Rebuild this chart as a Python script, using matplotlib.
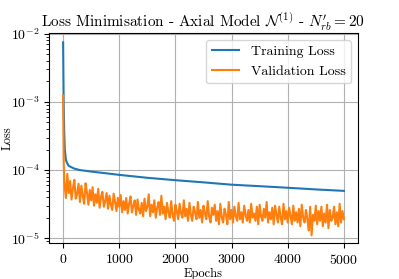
import numpy as np
import matplotlib
matplotlib.use('Agg')
import matplotlib.pyplot as plt

plt.rcParams['font.family'] = 'serif'
plt.rcParams['font.serif'] = ['cmr10']
plt.rcParams['mathtext.fontset'] = 'cm'
plt.rcParams['axes.formatter.use_mathtext'] = True
plt.rcParams['axes.unicode_minus'] = False

# training loss
ep_train = [0, 5, 10, 20, 30, 50, 75, 100, 200, 300, 500, 750, 1000, 1500,
            2000, 2500, 3000, 3500, 4000, 4500, 5000]
loss_train = [750, 250, 90, 35, 20, 14, 12.5, 11.5, 10.5, 10.0, 9.5, 9.0, 8.5, 7.7,
              7.1, 6.6, 6.1, 5.8, 5.5, 5.2, 4.95]  # x1e-5

# validation loss (noisy band), x1e-5
ep_val_start = [0, 5, 10, 20, 30]
val_start = [125, 40, 14, 7, 5.5]
val_rest = [3.9, 8.8, 4.6, 6.9, 3.7, 5.4, 7.2, 3.8, 4.5, 6.3,
            3.4, 5.9, 4.2, 3.2, 6.4, 4.7, 3.1, 5.1, 3.6, 5.6,
            3.0, 4.4, 3.3, 5.3, 2.8, 4.1, 4.8, 2.9, 3.5, 4.6,
            2.7, 4.2, 3.1, 2.6, 4.5, 3.4, 2.5, 3.9, 2.9, 4.3,
            2.4, 3.5, 2.6, 3.9, 2.3, 3.2, 4.1, 2.4, 3.0, 3.6,
            2.2, 3.7, 2.6, 2.3, 3.3, 2.1, 3.8, 2.5, 2.9, 4.4,
            2.1, 3.1, 2.4, 3.6, 2.0, 2.8, 3.4, 2.2, 4.2, 2.3,
            2.9, 1.9, 3.3, 2.4, 2.0, 3.5, 2.2, 1.8, 3.1, 2.5,
            1.9, 3.2, 2.3, 2.0, 3.6, 2.1, 2.7, 1.8, 3.3, 2.2,
            1.8, 2.9, 2.4, 1.9, 3.4, 2.0, 2.6, 1.7, 3.0, 2.3,
            1.9, 3.5, 2.1, 1.7, 2.8, 2.2, 3.1, 1.8, 2.5, 1.6,
            3.2, 2.0, 1.7, 2.7, 2.2, 1.6, 3.4, 1.9, 2.6, 1.7,
            2.9, 2.1, 1.8, 3.3, 1.9, 2.4, 1.7, 3.0, 2.2, 1.8,
            2.6, 1.7, 3.2, 2.0, 2.3, 1.8, 2.9, 1.6, 3.1, 2.1,
            1.8, 2.7, 2.0, 3.4, 1.7, 2.4, 1.9, 2.8, 1.6, 3.0,
            2.2, 1.7, 2.9, 2.0, 1.6, 3.2, 1.9, 2.5, 1.7, 2.8,
            2.1, 1.6, 3.0, 1.8, 2.4, 1.7, 2.7, 1.5, 3.1, 2.0,
            1.7, 2.6, 1.9, 1.3, 2.9, 1.1, 2.2, 1.8, 3.0, 1.6,
            2.5, 1.8, 2.9, 1.5, 2.3, 1.7, 3.1, 1.4, 2.6, 1.8,
            2.0, 2.9, 1.6, 2.4, 1.5, 3.2, 1.7, 2.5, 1.9]
ep_val = ep_val_start + list(range(50, 5001, 25))
loss_val = val_start + val_rest

fig = plt.figure(figsize=(3.99, 2.79), dpi=100)
ax = fig.add_axes([0.123, 0.129, 0.774, 0.753])
ax.plot(ep_train, np.array(loss_train) * 1e-5, color='#1f77b4', lw=1.5, label='Training Loss')
ax.plot(ep_val, np.array(loss_val) * 1e-5, color='#ff7f0e', lw=1.5, label='Validation Loss')
ax.set_yscale('log')
ax.set_xlim(-250, 5250)
ax.set_ylim(8.5e-6, 1.03e-2)
ax.grid(True, color='#b0b0b0', lw=0.8)
ax.set_title(r"Loss Minimisation - Axial Model $\mathcal{N}^{(1)}$ - $N^{\prime}_{rb} = 20$", fontsize=11, pad=3)
ax.set_xlabel('Epochs', fontsize=9, labelpad=1)
ax.set_ylabel('Loss', fontsize=9)
ax.yaxis.set_label_coords(-0.115, 0.5)
ax.tick_params(labelsize=10)
ax.legend(loc='upper right', fontsize=10)
fig.savefig('out.png', dpi=100)
